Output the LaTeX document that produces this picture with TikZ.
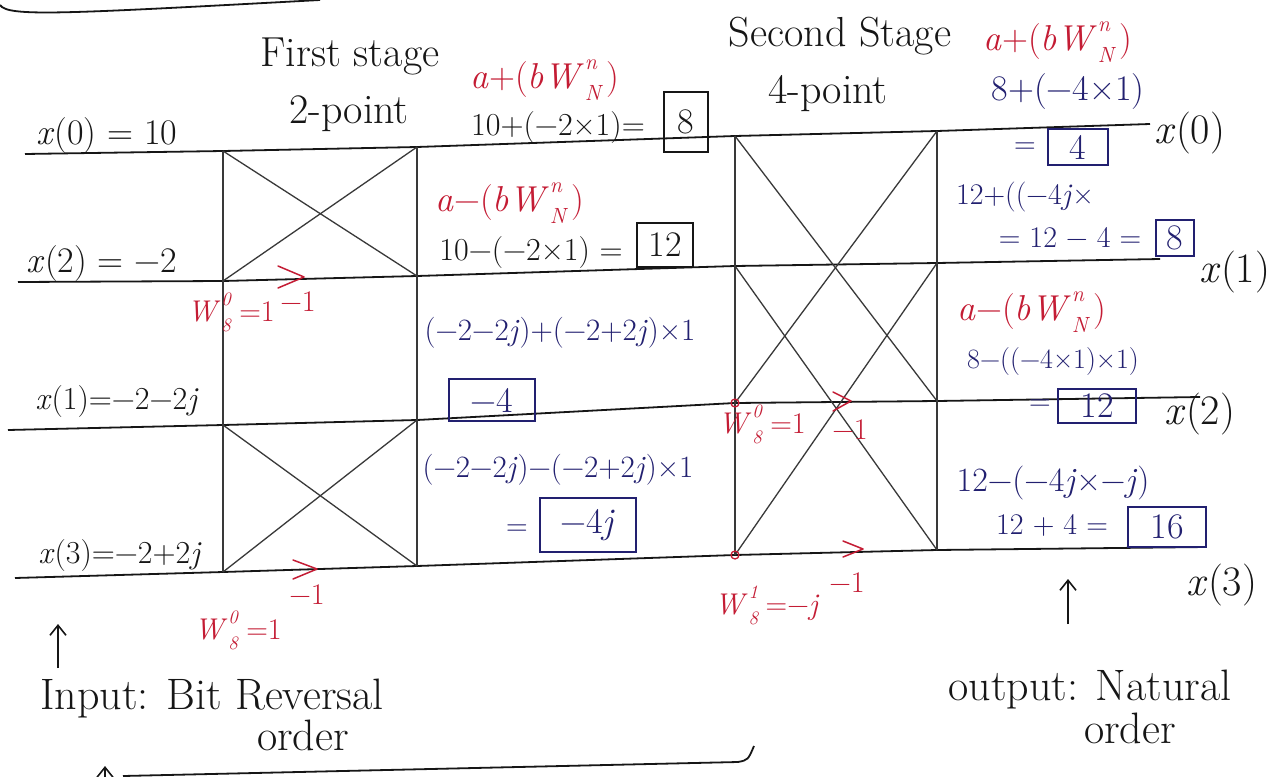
\documentclass[tikz,border=0pt]{standalone}
\usepackage{fontspec}
\usetikzlibrary{arrows.meta}
\definecolor{inkred}{RGB}{196,28,52}
\definecolor{inknavy}{RGB}{34,32,112}
\definecolor{ink}{RGB}{22,22,22}
\newcommand\twd[4][19]{\textit{#2}\kern1pt\rlap{\raisebox{-0.32em}{\fontsize{#1}{#1}\selectfont\textit{#3}}}\raisebox{0.55em}{\fontsize{#1}{#1}\selectfont\textit{#4}}\kern0.25em}
\begin{document}
\begin{tikzpicture}[x=1pt,y=-1pt,
  every node/.style={inner sep=1pt, font=\fontsize{30}{34}\selectfont},
  wire/.style={draw=ink, line width=1.8pt},
  bfly/.style={draw=ink!85, line width=1.3pt},
  lbl/.style={text=ink, font=\fontsize{42}{46}\selectfont},
  title/.style={text=ink, font=\fontsize{42}{46}\selectfont},
  capt/.style={text=ink, font=\fontsize{44}{48}\selectfont},
  inlbl/.style={text=ink, font=\fontsize{36}{40}\selectfont},
  inlbltight/.style={text=ink, font=\fontsize{32}{36}\selectfont},
  eqn/.style={text=inknavy},
  eqk/.style={text=ink, font=\fontsize{32}{36}\selectfont},
  frm/.style={text=inkred},
  frmbig/.style={text=inkred, font=\fontsize{36}{40}\selectfont},
  resb/.style={draw=inknavy, text=inknavy, line width=1.6pt, inner sep=3pt, font=\fontsize{36}{40}\selectfont},
  resk/.style={draw=ink, text=ink, line width=1.6pt, inner sep=3pt, font=\fontsize{36}{40}\selectfont},
  chev/.style={draw=inkred, line width=1.5pt, line cap=round, line join=round},
  upar/.style={draw=ink, line width=1.6pt, -{Straight Barb[length=10pt,width=16pt]}},
  nodemark/.style={circle, draw=inkred, line width=1.3pt, inner sep=0pt, minimum size=8pt}
]
\fill[white] (0,0) rectangle (1287,776);
\useasboundingbox (0,0) rectangle (1287,776);

% grid coordinates
\coordinate (a0) at (25,154);  \coordinate (a1) at (223,151); \coordinate (a2) at (417,147);
\coordinate (a3) at (735,136); \coordinate (a4) at (937,131); \coordinate (a5) at (1150,124);
\coordinate (b0) at (18,282);  \coordinate (b1) at (223,281); \coordinate (b2) at (417,276);
\coordinate (b3) at (735,266); \coordinate (b4) at (937,263); \coordinate (b5) at (1160,259);
\coordinate (c0) at (8,430);   \coordinate (c1) at (223,425); \coordinate (c2) at (417,420);
\coordinate (c3) at (735,403); \coordinate (c4) at (937,401); \coordinate (c5) at (1200,397);
\coordinate (d0) at (15,578);  \coordinate (d1) at (223,572); \coordinate (d2) at (417,566);
\coordinate (d3) at (735,555); \coordinate (d4) at (937,550); \coordinate (d5) at (1206,547);

% horizontal wires
\draw[wire] (a0) -- (a1) -- (a2) -- (a3) -- (a4) -- (a5);
\draw[wire] (b0) -- (b1) -- (b2) -- (b3) -- (b4) -- (b5);
\draw[wire] (c0) -- (c1) -- (c2) -- (c3) -- (c4) -- (c5);
\draw[wire] (d0) -- (d1) -- (d2) -- (d3) -- (d4) -- (d5);
% vertical lines
\draw[bfly] (a1) -- (d1);
\draw[bfly] (a2) -- (d2);
\draw[bfly] (a3) -- (d3);
\draw[bfly] (a4) -- (d4);
% first stage butterflies
\draw[bfly] (a1) -- (b2);
\draw[bfly] (b1) -- (a2);
\draw[bfly] (c1) -- (d2);
\draw[bfly] (d1) -- (c2);
% second stage butterflies
\draw[bfly] (a3) -- (c4);
\draw[bfly] (c3) -- (a4);
\draw[bfly] (b3) -- (d4);
\draw[bfly] (d3) -- (b4);

% top and bottom strokes
\coordinate (tc0) at (0,5); \coordinate (tc1) at (320,0);
\draw[wire] (tc0) .. controls (8,17) and (60,14) .. (tc1);
\coordinate (bl0) at (123,776); \coordinate (bl1) at (738,762); \coordinate (bl2) at (754,746);
\draw[wire] (bl0) -- (bl1) .. controls (748,760) .. (bl2);
\coordinate (bt0) at (105,780); \coordinate (bt1) at (105,766);
\draw[upar] (bt0) -- (bt1);

% titles
\node[title] (tfirst) at (350,56) {First stage};
\node[title] (t2pt) at (349,114) {2-point};
\node[title] (tsecond) at (840,36) {Second Stage};
\node[title] (t4pt) at (828,94) {4-point};

% input labels
\node[inlbl] (xin0) at (107,136) {\textit{x}(0) = 10};
\node[inlbl] (xin2) at (102,264) {\textit{x}(2) = −2};
\node[inlbltight] (xin1) at (117,402) {\textit{x}(1)=−2−2\textit{j}};
\node[inlbltight] (xin3) at (120,556) {\textit{x}(3)=−2+2\textit{j}};

% first stage computations
\node[frmbig] (f1) at (545,80) {\textit{a}+(\textit{b}\twd[22]{W}{N}{n})};
\node[eqk] (e1) at (558,128) {10+(−2×1)=};
\node[resk, minimum width=44, minimum height=60] (r1) at (686,122) {8};
\node[frmbig] (f3) at (510,203) {\textit{a}−(\textit{b}\twd[22]{W}{N}{n})};
\node[eqk] (e3) at (531,253) {10−(−2×1) =};
\node[resk, minimum width=56, minimum height=44] (r2) at (665,245) {12};
\node[eqn, font=\fontsize{31}{34}\selectfont] (e4) at (560,333) {(−2−2\textit{j})+(−2+2\textit{j})×1};
\node[resb, minimum width=86, minimum height=42] (r3) at (492,400) {−4};
\node[eqn, font=\fontsize{31}{34}\selectfont] (e5) at (558,470) {(−2−2\textit{j})−(−2+2\textit{j})×1};
\node[eqn] (q4) at (517,530) {=};
\node[resb, minimum width=96, minimum height=54] (r4) at (588,525) {−4\textit{j}};

% second stage computations
\node[frmbig] (f2) at (1058,42) {\textit{a}+(\textit{b}\twd[22]{W}{N}{n})};
\node[eqn, font=\fontsize{36}{40}\selectfont] (e6) at (1068,92) {8+(−4×1)};
\node[eqn] (q5) at (1025,148) {=};
\node[resb, minimum width=60, minimum height=36] (r5) at (1078,147) {4};
\node[lbl] (out0) at (1190,133) {\textit{x}(0)};
\node[eqn] (e7) at (1025,197) {12+((−4\textit{j}×};
\node[eqn] (e8) at (1070,237) {= 12 − 4 =};
\node[resb, minimum width=38, minimum height=36] (r6) at (1175,238) {8};
\node[lbl] (out1) at (1235,272) {\textit{x}(1)};
\node[frmbig] (f4) at (1032,312) {\textit{a}−(\textit{b}\twd[22]{W}{N}{n})};
\node[eqn, font=\fontsize{28}{32}\selectfont] (e9) at (1053,362) {8−((−4×1)×1)};
\node[eqn] (q7) at (1040,405) {=};
\node[resb, minimum width=78, minimum height=34] (r7) at (1097,406) {12};
\node[lbl] (out2) at (1200,414) {\textit{x}(2)};
\node[eqn, font=\fontsize{34}{38}\selectfont] (e10) at (1053,483) {12−(−4\textit{j}×−\textit{j})};
\node[eqn] (e11) at (1052,525) {12 + 4 =};
\node[resb, minimum width=78, minimum height=40] (r8) at (1167,527) {16};
\node[lbl] (out3) at (1222,585) {\textit{x}(3)};

% twiddle annotations (red)
\node[frm] (w1) at (231,312) {\twd{W}{8}{0}=1};
\node[frm] (m1) at (298,302) {−1};
\coordinate (k1) at (304,277);
\draw[chev] (k1) +(-26,-11) -- (k1) -- +(-26,11);
\node[frm] (w2) at (238,630) {\twd{W}{8}{0}=1};
\node[frm] (m2) at (307,595) {−1};
\coordinate (k2) at (317,569);
\draw[chev] (k2) +(-24,-9) -- (k2) -- +(-24,10);
\node[frm] (w3) at (762,424) {\twd{W}{8}{0}=1};
\node[frm] (m3) at (850,430) {−1};
\coordinate (k3) at (851,401);
\draw[chev] (k3) +(-18,-9) -- (k3) -- +(-18,10);
\node[frm] (w4) at (767,605) {\twd{W}{8}{1}=−\textit{j}};
\node[frm] (m4) at (847,583) {−1};
\coordinate (k4) at (863,549);
\draw[chev] (k4) +(-20,-8) -- (k4) -- +(-20,8);
\node[nodemark] (n3) at (c3) {};
\node[nodemark] (n4) at (d3) {};

% captions
\node[capt] (inp) at (212,699) {Input: Bit Reversal};
\node[capt] (inord) at (303,735) {order};
\coordinate (ua0) at (58,668); \coordinate (ua1) at (58,624);
\draw[upar] (ua0) -- (ua1);
\node[capt] (outp) at (1090,690) {output: Natural};
\node[capt] (outord) at (1130,728) {order};
\coordinate (ub0) at (1068,624); \coordinate (ub1) at (1068,579);
\draw[upar] (ub0) -- (ub1);
\end{tikzpicture}
\end{document}
